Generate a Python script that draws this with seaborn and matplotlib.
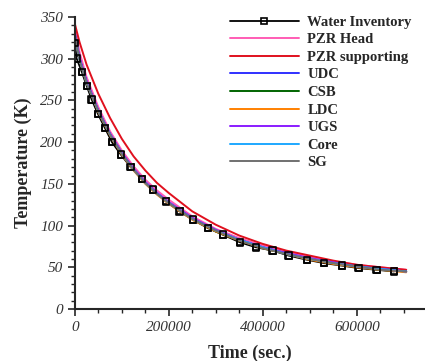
import numpy as np
import pandas as pd
import matplotlib
matplotlib.use("Agg")
import matplotlib.pyplot as plt
import seaborn as sns
from matplotlib.ticker import MultipleLocator

# water inventory (marker points)
wi_time = [0, 4000, 15000, 25500, 36000, 49000, 64000, 79000, 98000, 119000,
           143000, 166000, 194000, 223000, 251000, 283000, 315000, 351000,
           385000, 421000, 455000, 494000, 530000, 568000, 604000, 642000, 679000]
wi_temp = [319, 300, 284, 267, 251, 234, 217, 200, 185, 170, 156, 143, 129,
           117, 107, 97, 89, 80, 74, 70, 64, 59, 55, 52, 49, 47, 45]

# component curves
time = [0, 10000, 25000, 50000, 75000, 100000, 125000, 150000, 175000, 200000,
        250000, 300000, 350000, 400000, 450000, 500000, 550000, 600000, 650000, 705000]
pzr_head = [338, 308, 278, 242, 213, 190, 171, 155, 142, 131, 111, 96, 85, 76, 69, 62, 57, 53, 50, 47]
pzr_supp = [342, 320, 293, 258, 229, 204, 183, 166, 151, 139, 117, 101, 88, 78, 70, 64, 58, 53, 50, 47]
udc = [331, 301, 273, 238, 210, 187, 168, 152, 139, 128, 109, 94, 83, 74, 67, 60, 55, 51, 48, 45]
csb = [329, 300, 272, 237, 209, 186, 167, 151, 138, 127, 108, 93, 82, 73, 66, 60, 55, 51, 47, 45]
ldc = [329, 299, 271, 236, 208, 185, 166, 150, 137, 126, 107, 93, 82, 73, 66, 59, 54, 50, 47, 44]
ugs = [330, 301, 273, 238, 210, 187, 168, 152, 139, 128, 109, 95, 83, 74, 67, 61, 56, 51, 48, 45]
core = [328, 299, 271, 237, 209, 186, 167, 151, 138, 127, 108, 94, 83, 74, 66, 60, 55, 51, 48, 45]
sg = [328, 299, 271, 237, 209, 186, 167, 151, 138, 127, 108, 94, 82, 73, 66, 60, 55, 51, 47, 45]

series = [
    ("PZR Head", pzr_head, "#ff5cb4"),
    ("PZR supporting", pzr_supp, "#e0101e"),
    ("UDC", udc, "#3030ff"),
    ("CSB", csb, "#006400"),
    ("LDC", ldc, "#ff8000"),
    ("UGS", ugs, "#8a1cff"),
    ("Core", core, "#1ea8ff"),
    ("SG", sg, "#707070"),
]

sns.set_style("ticks")
plt.rcParams['font.family'] = ['Liberation Serif', 'DejaVu Serif']

fig = plt.figure(figsize=(4.25, 3.61), dpi=100)
ax = fig.add_axes([0.176, 0.144, 0.824, 0.809])

wi = pd.DataFrame({"t": wi_time, "T": wi_temp})
sns.lineplot(data=wi, x="t", y="T", ax=ax, color="black", lw=1.3,
             marker="s", markersize=4.5, markerfacecolor="none",
             markeredgecolor="black", markeredgewidth=1.2,
             label="Water Inventory", zorder=1)

for name, vals, col in series:
    df = pd.DataFrame({"t": time, "T": vals})
    sns.lineplot(data=df, x="t", y="T", ax=ax, color=col, lw=1.4,
                 label=name, zorder=2)

sns.scatterplot(data=wi, x="t", y="T", ax=ax, marker="s", s=22,
                facecolor="none", edgecolor="black", linewidth=1.2,
                zorder=5, legend=False)

ax.set_xlim(0, 745000)
ax.set_ylim(0, 350)
ax.xaxis.set_major_locator(MultipleLocator(200000))
ax.xaxis.set_minor_locator(MultipleLocator(50000))
ax.yaxis.set_major_locator(MultipleLocator(50))
ax.yaxis.set_minor_locator(MultipleLocator(10))
ax.tick_params(which="major", length=5, width=1.2, direction="out",
               labelsize=11, labelcolor="#333333")
ax.tick_params(which="minor", length=3, width=1.0, direction="out")
for lab in ax.get_xticklabels() + ax.get_yticklabels():
    lab.set_fontstyle("italic")

sns.despine(ax=ax)
for s in ["left", "bottom"]:
    ax.spines[s].set_linewidth(1.5)

ax.set_xlabel("Time (sec.)", fontsize=13, fontweight="bold", labelpad=8)
ax.set_ylabel("Temperature (K)", fontsize=13, fontweight="bold", labelpad=6)

ax.legend(loc="upper right", bbox_to_anchor=(1.0, 1.05), frameon=False,
          handlelength=4.7, handletextpad=0.6, labelspacing=0.3,
          prop={"weight": "bold", "size": 10.5})

fig.savefig("out.png", dpi=100)
